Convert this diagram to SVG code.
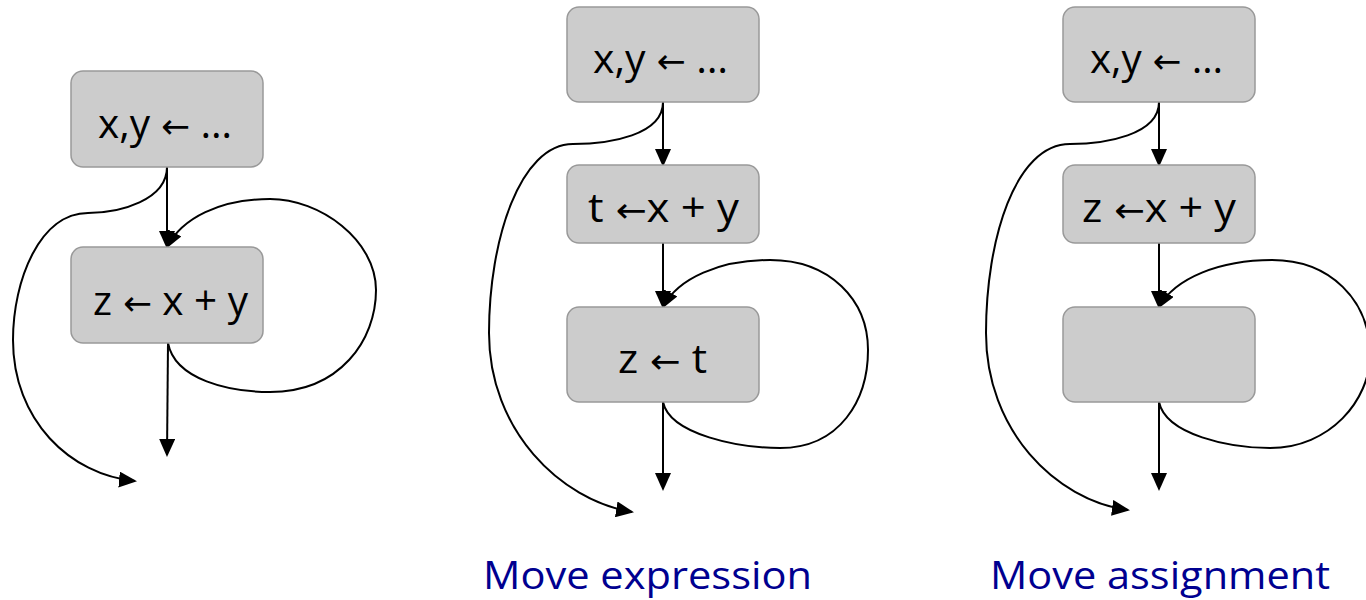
<svg xmlns="http://www.w3.org/2000/svg" width="1366" height="600" viewBox="0 0 1366 600">
<defs>
<marker id="ah" markerUnits="userSpaceOnUse" markerWidth="20" markerHeight="16" refX="16" refY="8" orient="auto">
<path d="M0,0 L18,8 L0,16 z" fill="#000"/>
</marker>
<style>
.box{fill:#cccccc;stroke:#999999;stroke-width:1.5}
.t{font-family:"Open Sans","Liberation Sans",sans-serif;font-size:40px;fill:#000}
.ar{font-family:"DejaVu Sans",sans-serif;font-size:34px}
.lbl{font-family:"Open Sans","Liberation Sans",sans-serif;font-size:38px;fill:#000090}
.c{fill:none;stroke:#000;stroke-width:2;marker-end:url(#ah)}
</style>
</defs>
<rect width="1366" height="600" fill="#fff"/>
<g id="connectors">
<path class="c" d="M167,167 L167,247"/>
<path class="c" d="M168,343 L167,455"/>
<path class="c" d="M167,167 C167,200 120,213 88,213 C40,213 13,280 13,340 C13,420 70,475 135,481"/>
<path class="c" d="M168,343 C175,380 230,392 270,392 C340,392 376,340 376,290 C376,240 320,199 270,199 C220,199 182,218 167,247"/>

<path class="c" d="M663,102 L663,165"/>
<path class="c" d="M663,243 L663,307"/>
<path class="c" d="M663,402 L663,489"/>
<path class="c" d="M663,102 C663,135 610,144 573,144 C520,144 489,240 489,333 C489,430 560,500 632,512"/>
<path class="c" d="M663,402 C670,435 740,448 780,448 C840,448 868,400 868,350 C868,300 830,260 770,260 C720,260 678,278 663,307"/>

<path class="c" d="M1159,102 L1159,165"/>
<path class="c" d="M1159,243 L1159,307"/>
<path class="c" d="M1159,402 L1159,489"/>
<path class="c" d="M1159,102 C1159,135 1105,144 1070,144 C1015,144 986,240 986,333 C986,430 1055,500 1128,510"/>
<path class="c" d="M1159,402 C1166,435 1230,448 1270,448 C1330,448 1370,400 1370,355 C1370,300 1330,260 1272,260 C1220,260 1175,278 1159,307"/>
</g>
<g id="a1"><rect class="box" x="71" y="71" width="192" height="96" rx="12"/><text class="t" x="98" y="138" textLength="134" lengthAdjust="spacingAndGlyphs">x,y<tspan class="ar"> ←</tspan> …</text></g>
<g id="a2"><rect class="box" x="71" y="247" width="192" height="96" rx="12"/><text class="t" x="93" y="315" textLength="155" lengthAdjust="spacingAndGlyphs">z<tspan class="ar"> ←</tspan> x + y</text></g>

<g id="b1"><rect class="box" x="567" y="7" width="192" height="95" rx="12"/><text class="t" x="593" y="73" textLength="135" lengthAdjust="spacingAndGlyphs">x,y<tspan class="ar"> ←</tspan> …</text></g>
<g id="b2"><rect class="box" x="567" y="165" width="192" height="78" rx="12"/><text class="t" x="588" y="222" textLength="151" lengthAdjust="spacingAndGlyphs">t<tspan class="ar"> ←</tspan>x + y</text></g>
<g id="b3"><rect class="box" x="567" y="307" width="192" height="95" rx="12"/><text class="t" x="618" y="373" textLength="89" lengthAdjust="spacingAndGlyphs">z<tspan class="ar"> ←</tspan> t</text></g>

<g id="c1"><rect class="box" x="1063" y="7" width="192" height="95" rx="12"/><text class="t" x="1090" y="73" textLength="133" lengthAdjust="spacingAndGlyphs">x,y<tspan class="ar"> ←</tspan> …</text></g>
<g id="c2"><rect class="box" x="1063" y="165" width="192" height="78" rx="12"/><text class="t" x="1082" y="222" textLength="154" lengthAdjust="spacingAndGlyphs">z<tspan class="ar"> ←</tspan>x + y</text></g>
<g id="c3"><rect class="box" x="1063" y="307" width="192" height="95" rx="12"/></g>

<g id="labels">
<text class="lbl" x="483" y="589" textLength="329" lengthAdjust="spacingAndGlyphs">Move expression</text>
<text class="lbl" x="990" y="589" textLength="340" lengthAdjust="spacingAndGlyphs">Move assignment</text>
</g>
</svg>
